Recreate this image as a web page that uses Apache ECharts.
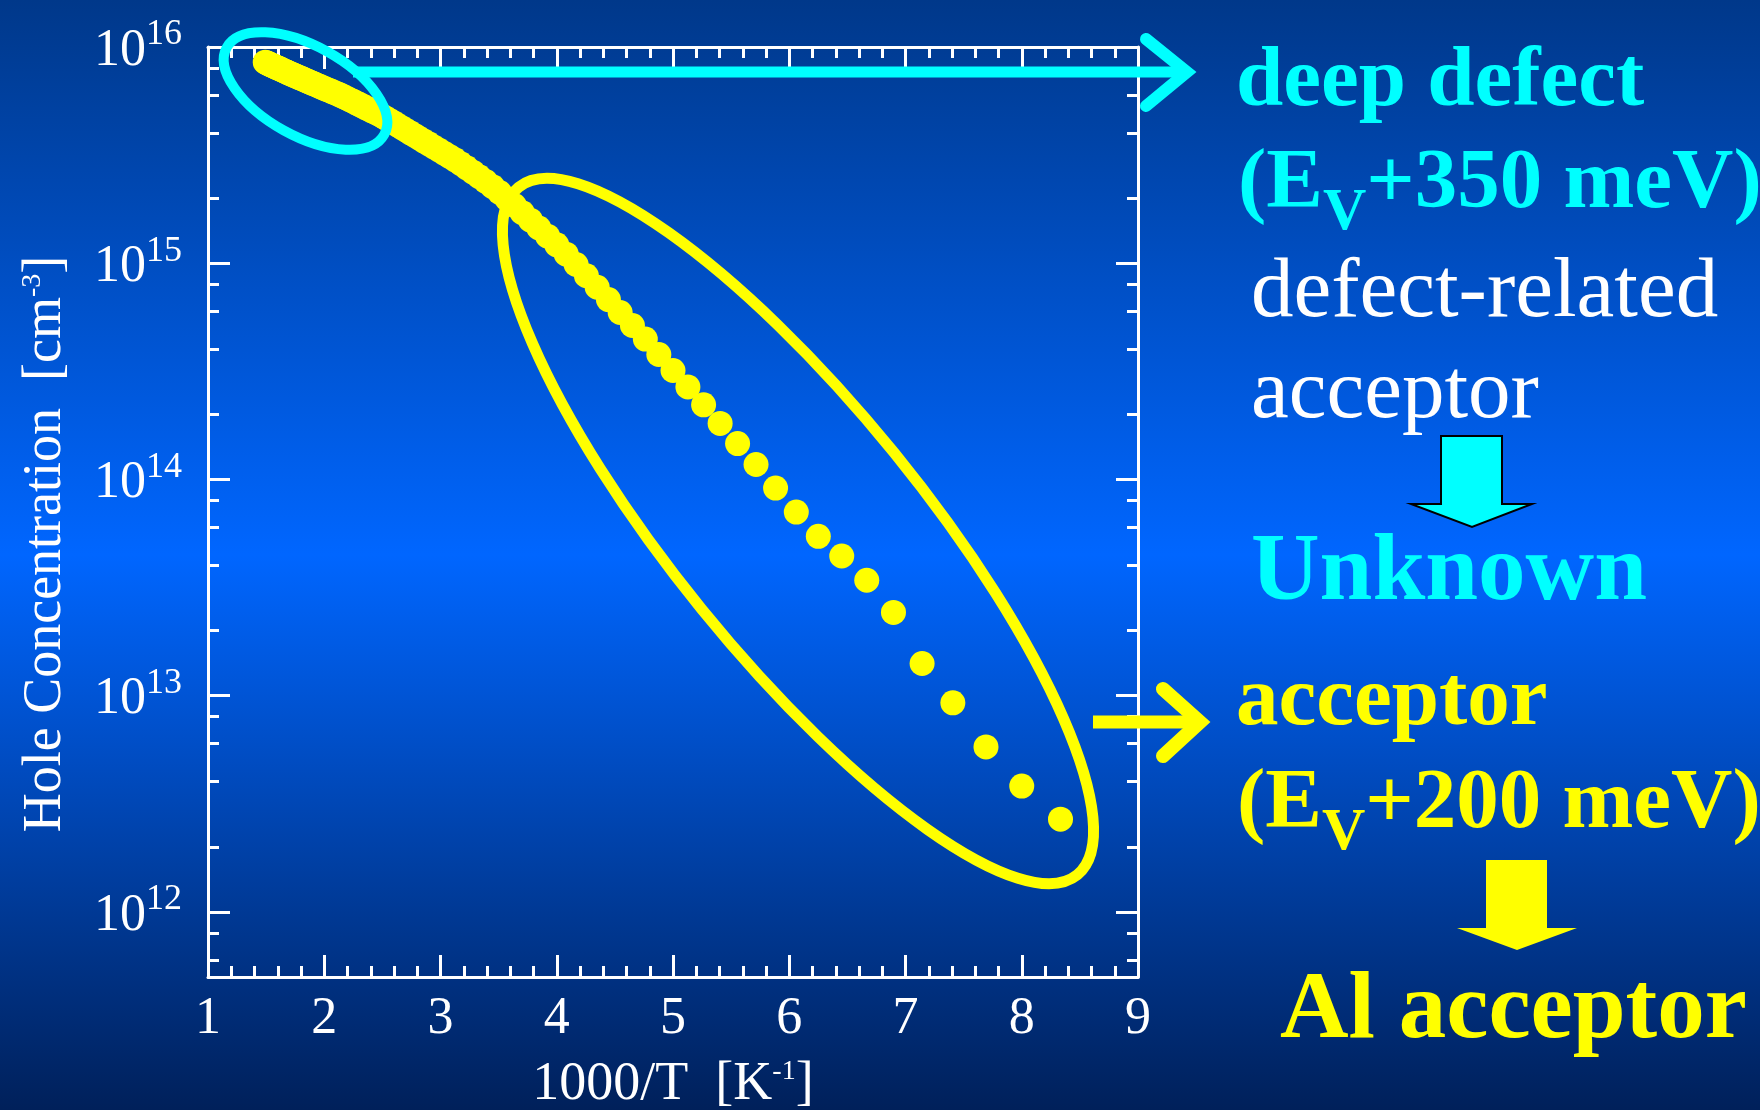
<!DOCTYPE html>
<html><head><meta charset="utf-8">
<script src="https://cdn.jsdelivr.net/npm/echarts@6/dist/echarts.min.js"></script>
<style>html,body{margin:0;padding:0;background:#0050c8;}#c{width:1760px;height:1110px;}</style>
</head><body><div id="c"></div>
<script>
// Measurement temperatures (K); x = 1000/T
const temperatureK = [120,125,130,135,140,145,150,155,160,165,170,175,180,185,190,195,200,205,210,215,220,225,230,235,240,245,250,255,260,265,270,275,280,285,290,295,300,305,310,315,320,325,330,335,340,345,350,355,360,365,370,375,380,385,390,395,400,405,410,415,420,425,430,435,440,445,450,455,460,465,470,475,480,485,490,495,500,505,510,515,520,525,530,535,540,545,550,555,560,565,570,575,580,585,590,595,600,605,610,615,620,625,630,635,640,645,650,655,660,665,670];
// log10 of hole concentration (cm^-3)
const log10HoleConc = [12.429,12.582,12.763,12.967,13.149,13.385,13.534,13.646,13.737,13.849,13.960,14.069,14.166,14.259,14.345,14.428,14.504,14.578,14.649,14.712,14.772,14.832,14.889,14.942,14.994,15.042,15.085,15.125,15.163,15.199,15.234,15.267,15.298,15.327,15.354,15.378,15.400,15.421,15.441,15.460,15.478,15.494,15.509,15.524,15.538,15.552,15.565,15.578,15.591,15.603,15.615,15.627,15.638,15.650,15.660,15.670,15.680,15.689,15.697,15.705,15.713,15.720,15.728,15.735,15.742,15.749,15.755,15.762,15.768,15.774,15.780,15.785,15.790,15.795,15.800,15.804,15.809,15.813,15.818,15.822,15.827,15.831,15.835,15.839,15.843,15.847,15.851,15.855,15.858,15.862,15.866,15.869,15.873,15.876,15.880,15.883,15.887,15.890,15.893,15.897,15.900,15.903,15.906,15.909,15.912,15.915,15.918,15.921,15.924,15.927,15.930];
const xMin = 1, xMax = 9;
const yMin = 5e11, yMax = 1e16;
const yDecades = [1e12, 1e13, 1e14, 1e15, 1e16];
const yMinorTicks = [6e11,8e11,2e12,4e12,6e12,8e12,2e13,4e13,6e13,8e13,2e14,4e14,6e14,8e14,2e15,4e15,6e15,8e15];

const FONT = "'Liberation Serif','Times New Roman',serif";
const chart = echarts.init(document.getElementById('c'), null, {renderer: 'canvas'});
const data = temperatureK.map((t, i) => [1000 / t, Math.pow(10, log10HoleConc[i])]);

const lineW = {color: '#ffffff', width: 3};
function xAx(pos, labels) {
  return {
    type: 'value', position: pos, min: xMin, max: xMax, interval: 1,
    axisLine: {show: true, lineStyle: lineW},
    axisTick: {show: true, inside: true, length: 22, lineStyle: lineW},
    minorTick: {show: true, splitNumber: 5, length: 11, lineStyle: lineW},
    splitLine: {show: false}, minorSplitLine: {show: false},
    axisLabel: labels ? {show: true, margin: 16, color: '#fff', fontSize: 52, fontFamily: FONT} : {show: false},
    name: labels ? '1000/T  [K{s|-1}]' : '',
    nameLocation: 'middle', nameGap: 81,
    nameTextStyle: {color: '#fff', fontSize: 54, fontFamily: FONT,
      rich: {s: {fontSize: 28, fontFamily: FONT, color: '#fff', verticalAlign: 'top', lineHeight: 30}}}
  };
}
function yAx(pos, ticks, len, showLine, labels) {
  const o = {
    type: 'log', logBase: 10, position: pos, min: yMin, max: yMax,
    axisLine: {show: showLine, lineStyle: lineW},
    axisTick: {show: true, inside: true, length: len, lineStyle: lineW, customValues: ticks},
    minorTick: {show: false}, splitLine: {show: false},
    axisLabel: {show: false}
  };
  if (labels) {
    o.axisLabel = {
      show: true, margin: 26, customValues: yDecades,
      formatter: v => '{b|10}{s|' + Math.round(Math.log10(v)) + '}',
      rich: {
        b: {fontSize: 52, lineHeight: 60, fontFamily: FONT, color: '#fff', verticalAlign: 'bottom'},
        s: {fontSize: 36, lineHeight: 22, fontFamily: FONT, color: '#fff', verticalAlign: 'top'}
      }
    };
    o.name = 'Hole Concentration  [cm{s|-3}]';
    o.nameLocation = 'middle';
    o.nameGap = 135;
    o.nameRotate = 90;
    o.nameTextStyle = {color: '#fff', fontSize: 54, fontFamily: FONT, padding: [0, 64, 0, 0],
      rich: {s: {fontSize: 28, fontFamily: FONT, color: '#fff', verticalAlign: 'top', lineHeight: 30}}};
  }
  return o;
}

const K = 0.27; // baseline offset below text centre, in font sizes
const measureCtx = document.createElement('canvas').getContext('2d');
function textW(str, size, bold) {
  measureCtx.font = (bold ? 'bold ' : '') + size + 'px ' + FONT;
  return measureCtx.measureText(str).width;
}
function txt(str, x, baseline, size, color, bold) {
  return {
    type: 'text', z: 120, silent: true,
    style: {
      text: str, x: x, y: baseline - K * size, align: 'left', verticalAlign: 'middle',
      fontSize: size, fontFamily: FONT, fontWeight: bold ? 'bold' : 'normal', fill: color
    }
  };
}
function subLine(pre, sub, post, x, baseline, color) {
  const w1 = textW(pre, 85, true);
  const w2 = textW(sub, 60, true);
  return [
    txt(pre, x, baseline, 85, color, true),
    txt(sub, x + w1, baseline + 22, 60, color, true),
    txt(post, x + w1 + w2, baseline, 85, color, true)
  ];
}

const option = {
  animation: false,
  backgroundColor: 'transparent',
  grid: {left: 208, right: 622, top: 47, bottom: 133, containLabel: false, outerBoundsMode: 'none'},
  xAxis: [xAx('bottom', true), xAx('top', false)],
  yAxis: [
    yAx('left', yDecades, 22, true, true),
    yAx('left', yMinorTicks, 11, false, false),
    yAx('right', yDecades, 22, true, false),
    yAx('right', yMinorTicks, 11, false, false)
  ],
  series: [{
    type: 'scatter', xAxisIndex: 0, yAxisIndex: 0, data: data,
    symbol: 'circle', symbolSize: 25, itemStyle: {color: '#ffff00', opacity: 1}, z: 5
  }],
  graphic: [
    {type: 'rect', z: -100, silent: true, shape: {x: 0, y: 0, width: 1760, height: 1110},
      style: {fill: new echarts.graphic.LinearGradient(0, 0, 0, 1, [
        {offset: 0, color: '#00388a'}, {offset: 0.5, color: '#0066ff'}, {offset: 1, color: '#00205a'}])}},
    // cyan ellipse
    {type: 'ellipse', z: 110, silent: true, x: 305.5, y: 91, rotation: -29 * Math.PI / 180,
      shape: {cx: 0, cy: 0, rx: 90, ry: 45}, style: {fill: 'none', stroke: '#00ffff', lineWidth: 10}},
    // yellow ellipse
    {type: 'ellipse', z: 110, silent: true, x: 798, y: 531, rotation: -50.9 * Math.PI / 180,
      shape: {cx: 0, cy: 0, rx: 443, ry: 124}, style: {fill: 'none', stroke: '#ffff00', lineWidth: 11}},
    // cyan arrow
    {type: 'line', z: 110, silent: true, shape: {x1: 353, y1: 72, x2: 1184, y2: 72},
      style: {stroke: '#00ffff', lineWidth: 11, lineCap: 'butt'}},
    {type: 'polyline', z: 110, silent: true, shape: {points: [[1146, 39], [1187, 72], [1146, 106]]},
      style: {stroke: '#00ffff', lineWidth: 12, lineCap: 'round', lineJoin: 'miter', fill: 'none'}},
    // yellow arrow
    {type: 'line', z: 110, silent: true, shape: {x1: 1093, y1: 722, x2: 1198, y2: 722},
      style: {stroke: '#ffff00', lineWidth: 13, lineCap: 'butt'}},
    {type: 'polyline', z: 110, silent: true, shape: {points: [[1163, 689], [1200, 722], [1163, 756]]},
      style: {stroke: '#ffff00', lineWidth: 14, lineCap: 'round', lineJoin: 'miter', fill: 'none'}},
    // block arrows
    {type: 'polygon', z: 110, silent: true,
      shape: {points: [[1441, 436], [1502, 436], [1502, 504], [1532, 504], [1472, 527], [1411, 504], [1441, 504]]},
      style: {fill: '#00ffff', stroke: '#000000', lineWidth: 2}},
    {type: 'polygon', z: 110, silent: true,
      shape: {points: [[1486, 860], [1547, 860], [1547, 928], [1577, 928], [1517, 950], [1457, 928], [1486, 928]]},
      style: {fill: '#ffff00'}},
    txt('deep defect', 1236, 106, 85, '#00ffff', true),
    ...subLine('(E', 'V', '+350 meV)', 1238, 208, '#00ffff'),
    txt('defect-related', 1251, 317, 85, '#ffffff', false),
    txt('acceptor', 1251, 418, 85, '#ffffff', false),
    txt('Unknown', 1251, 600, 95, '#00ffff', true),
    txt('acceptor', 1236, 725, 85, '#ffff00', true),
    ...subLine('(E', 'V', '+200 meV)', 1237, 828, '#ffff00'),
    txt('Al acceptor', 1280, 1038, 95, '#ffff00', true)
  ]
};
chart.setOption(option);
</script>
</body></html>
